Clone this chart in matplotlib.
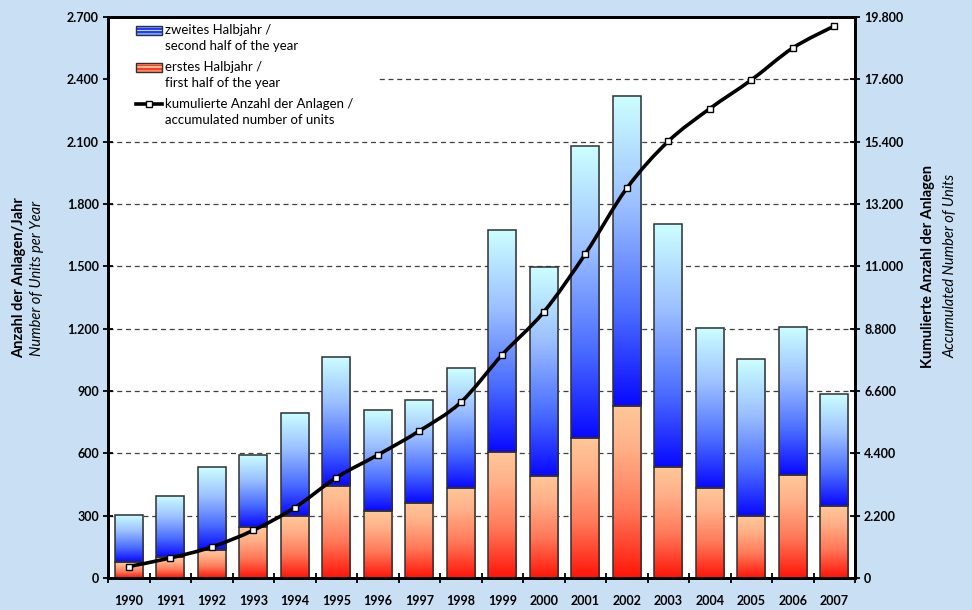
import matplotlib
matplotlib.use("Agg")
import matplotlib.pyplot as plt
import numpy as np
from matplotlib.colors import LinearSegmentedColormap
from matplotlib.patches import Rectangle, PathPatch
from matplotlib.path import Path
from matplotlib.ticker import FuncFormatter

plt.rcParams['font.family'] = ['Lato', 'DejaVu Sans']

years = [str(y) for y in range(1990, 2008)]
first_half = [75, 100, 135, 244, 298, 443, 322, 361, 435, 608, 493, 675, 829, 536, 433, 297, 494, 348]
total = [305, 395, 533, 594, 794, 1065, 807, 855, 1012, 1676, 1495, 2079, 2321, 1703, 1205, 1052, 1210, 884]
second_half = [t - f for t, f in zip(total, first_half)]
cumulative = [405, 706, 1095, 1683, 2483, 3541, 4342, 5189, 6200, 7883, 9389, 11435,
              13753, 15412, 16565, 17576, 18706, 19482]

legend_lines = [['zweites Halbjahr /', 'second half of the year'],
                ['erstes Halbjahr /', 'first half of the year'],
                ['kumulierte Anzahl der Anlagen /', 'accumulated number of units']]

bg = '#c9e0f4'
blue_cmap = LinearSegmentedColormap.from_list(
    'blue', [(0, '#0808ff'), (0.3, '#4a6cff'), (0.65, '#9cc0ff'), (1, '#ccffff')])
red_cmap = LinearSegmentedColormap.from_list(
    'red', [(0, '#ff1408'), (0.4, '#ff7a5a'), (0.75, '#ffb088'), (1, '#ffc898')])

fig = plt.figure(figsize=(9.72, 6.10), dpi=100, facecolor=bg)
ax = fig.add_axes([108 / 972, 32 / 610, 747 / 972, 561 / 610])
ax.set_facecolor('white')

x = np.arange(len(years))
w = 0.675
grad = np.linspace(0, 1, 256).reshape(-1, 1)
thousands = FuncFormatter(lambda v, p: f'{int(v):,}'.replace(',', '.'))


def grad_bars(bottoms, heights, cmap):
    for xi, b, h in zip(x, bottoms, heights):
        ax.imshow(grad, cmap=cmap, origin='lower', aspect='auto', interpolation='bilinear',
                  extent=(xi - w / 2, xi + w / 2, b, b + h), zorder=2)
    ax.bar(x, heights, w, bottom=bottoms, facecolor='none', edgecolor='#303030', lw=1.1, zorder=3)


grad_bars([0] * len(x), first_half, red_cmap)
grad_bars(first_half, second_half, blue_cmap)

ax.set_xlim(-0.5, len(years) - 0.5)
ax.set_ylim(0, 2700)
ax.set_yticks(np.arange(0, 2701, 300))
ax.yaxis.set_major_formatter(thousands)
ax.set_xticks(np.arange(-0.5, len(years), 1))
ax.set_xticklabels([])
ax.set_xticks(x, minor=True)
ax.set_xticklabels(years, minor=True, fontweight='bold', fontsize=9)
ax.tick_params(axis='x', which='minor', length=0, pad=12)
ax.tick_params(axis='x', which='major', direction='inout', length=7, width=1.3)
ax.tick_params(axis='y', direction='inout', length=7, width=1.3, labelsize=9, pad=3)
for t in ax.get_yticklabels():
    t.set_fontweight('bold')
ax.set_axisbelow(True)
ax.yaxis.grid(True, linestyle=(0, (4, 3)), color='#404040', lw=0.9)
for s in ax.spines.values():
    s.set_linewidth(2)
    s.set_color('black')

ax2 = ax.twinx()


# smoothed line like the original (cubic Bezier through the points)
def smooth_path(xs, ys, t=1 / 6):
    pts = np.column_stack([xs, ys]).astype(float)
    verts = [pts[0]]
    codes = [Path.MOVETO]
    for i in range(len(pts) - 1):
        p0 = pts[max(i - 1, 0)]
        p1 = pts[i]
        p2 = pts[i + 1]
        p3 = pts[min(i + 2, len(pts) - 1)]
        verts += [p1 + (p2 - p0) * t, p2 - (p3 - p1) * t, p2]
        codes += [Path.CURVE4] * 3
    return Path(verts, codes)


ax2.add_patch(PathPatch(smooth_path(x, cumulative), facecolor='none', edgecolor='black', lw=2.6,
                        capstyle='round', joinstyle='round', zorder=4))
ax2.plot(x, cumulative, ls='none', marker='s', ms=5, mfc='white', mec='black', mew=1, zorder=5)
ax2.set_ylim(0, 19800)
ax2.set_yticks(np.arange(0, 19801, 2200))
ax2.yaxis.set_major_formatter(thousands)
ax2.tick_params(axis='y', direction='inout', length=7, width=1.3, labelsize=9, pad=3)
for t in ax2.get_yticklabels():
    t.set_fontweight('bold')
for s in ax2.spines.values():
    s.set_linewidth(2)


# legend drawn by hand, positions in pixels of the 972x610 picture
def axp(px, py):
    return (px - 108) / 747, (578 - py) / 561


bx, by = axp(108, 136)
ax.add_patch(Rectangle((bx, by), axp(377, 0)[0] - bx, 1 - by, transform=ax.transAxes,
                       facecolor='white', edgecolor='none', zorder=1))

row_y = [[30.5, 46.5], [67.3, 83.3], [104, 120]]
for k, (lines, ys) in enumerate(zip(legend_lines, row_y)):
    for line, py in zip(lines, ys):
        tx, ty = axp(165, py)
        ax2.text(tx, ty, line, transform=ax2.transAxes, fontsize=9.5, va='center', ha='left', zorder=6)
    x0, yc = axp(136, ys[0])
    x1, _ = axp(162, ys[0])
    if k < 2:
        cmap = [blue_cmap, red_cmap][k]
        hh = 8.5 / 561
        vals = [0.5, 0.15, 0.85, 0.15, 0.5]
        for i, v in enumerate(vals):
            ax2.add_patch(Rectangle((x0, yc - hh / 2 + i * hh / len(vals)), x1 - x0, hh / len(vals),
                                    transform=ax2.transAxes, facecolor=cmap(v), lw=0, zorder=6))
        ax2.add_patch(Rectangle((x0, yc - hh / 2), x1 - x0, hh, transform=ax2.transAxes,
                                facecolor='none', edgecolor='#303030', lw=1, zorder=6))
    else:
        ax2.plot([x0, x1], [yc, yc], transform=ax2.transAxes, color='black', lw=2.6, zorder=6)
        ax2.plot([(x0 + x1) / 2], [yc], transform=ax2.transAxes, ls='none', marker='s', ms=5,
                 mfc='white', mec='black', mew=1, zorder=7)

fig.text(19 / 972, 1 - 278 / 610, 'Anzahl der Anlagen/Jahr', rotation=90, ha='center', va='center',
         fontsize=10.5, fontweight='bold')
fig.text(37 / 972, 1 - 278 / 610, 'Number of Units per Year', rotation=90, ha='center', va='center',
         fontsize=10.5, fontstyle='italic')
fig.text(928 / 972, 1 - 266 / 610, 'Kumulierte Anzahl der Anlagen', rotation=90, ha='center',
         va='center', fontsize=10.5, fontweight='bold')
fig.text(950 / 972, 1 - 266 / 610, 'Accumulated Number of Units', rotation=90, ha='center',
         va='center', fontsize=10.5, fontstyle='italic')

fig.savefig('out.png', dpi=100, facecolor=bg)
